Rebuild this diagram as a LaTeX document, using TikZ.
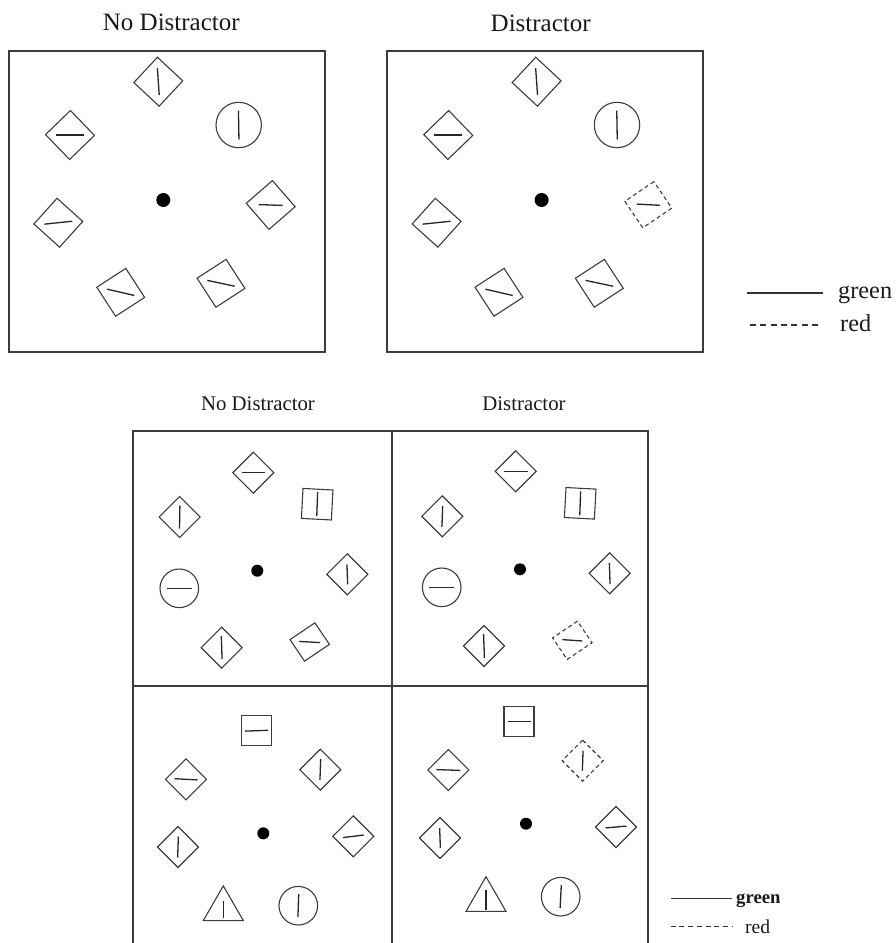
\documentclass[tikz,border=0pt]{standalone}
\usepackage{fontspec}
\setmainfont{Liberation Serif}
\usetikzlibrary{shapes.geometric}
\definecolor{InkGray}{RGB}{60,60,60}
\definecolor{FrameGray}{RGB}{60,60,60}
\definecolor{TextDark}{RGB}{25,25,25}

\begin{document}
\begin{tikzpicture}[
    x=1pt,y=-1pt,
    frame/.style={draw=FrameGray,line width=1.3pt},
    sq/.style={draw=InkGray,line width=1.1pt,rectangle,inner sep=0pt,minimum size=34.6pt},
    dia/.style={sq,rotate=45,minimum size=29pt},
    ring/.style={draw=InkGray,line width=1.1pt,circle,inner sep=0pt},
    tri/.style={draw=InkGray,line width=1.1pt,regular polygon,regular polygon sides=3,
                inner sep=0pt,minimum size=46.2pt},
    fix/.style={circle,fill=black,inner sep=0pt,minimum size=14pt},
    bar/.style={draw=black!85,line width=1.3pt},
    distr/.style={dash pattern=on 4pt off 3pt},
    ttl/.style={anchor=base,text=TextDark},
    key/.style={draw=black!80,line width=1.1pt}
  ]
  \useasboundingbox (0,0) rectangle (895,943);

  % titles
  \node[ttl,font=\fontsize{25}{30}\selectfont] (ta) at (171.3,30.7) {No Distractor};
  \node[ttl,font=\fontsize{25}{30}\selectfont] (tb) at (540.7,31.5) {Distractor};
  \node[ttl,font=\fontsize{20.8}{25}\selectfont] (tc) at (258,410) {No Distractor};
  \node[ttl,font=\fontsize{20.8}{25}\selectfont] (td) at (524,410) {Distractor};

  % top panels
  \draw[frame] (9,51) rectangle (325,352);
  \draw[frame] (387,51) rectangle (703,352);
  \foreach \p/\dx in {a/0,b/378.3}{
    \foreach \n/\x/\y/\r/\b/\l in {t/158.3/81.7/47/94/27,tl/70/135/44/0/28,l/58.3/222.7/48/6/28,
                                    bl/120.7/292.3/33/-13/28,br/221/283.3/33/-12/28}{
      \node[sq,rotate=\r] (\p-\n) at ({\x+\dx},\y) {};
      \draw[bar] (\p-\n.center) ++(\b:{-0.5pt*\l}) -- ++(\b:{1pt*\l});
    }
    \node[ring,minimum size=45.4pt] (\p-c) at ({238.7+\dx},125) {};
    \draw[bar] (\p-c.center) ++(91:-14.5pt) -- ++(91:29pt);
    \node[fix] (\p-f) at ({163.3+\dx},200) {};
  }
  \node[sq,rotate=41] (a-r) at (270.7,205) {};
  \draw[bar] (a-r.center) ++(-2:-12pt) -- ++(-2:24pt);
  \node[sq,distr,rotate=34,minimum width=35pt,minimum height=32pt] (b-r) at (648.3,204.7) {};
  \draw[bar] (b-r.center) ++(-3:-11.5pt) -- ++(-3:23pt);

  % bottom panels
  \draw[frame] (133,943) |- (648,431) -- (648,943);
  \draw[frame] (392,431) -- (392,943);
  \draw[frame] (133,686) -- (648,686);

  \foreach \n/\x/\y/\b/\l in {c-t/253.3/472.7/0/23,c-l/179.7/517/89/23,c-r/347.3/574.3/92/20,
                              c-bl/221.7/647.7/92/23,d-t/515.7/471.3/0/24,d-l/442.3/516.3/88/21,
                              d-r/609.7/573.3/92/21,d-bl/484/646/92/24,e-tl/186/779.3/-3/23,
                              e-tr/320.3/769.7/88/21,e-l/178/847/88/21,e-r/353.3/836.3/7/21,
                              f-tl/448.3/770/-2/24,f-l/440/838/92/20,f-r/616/827/5/21}{
    \node[dia] (\n) at (\x,\y) {};
    \draw[bar] (\n.center) ++(\b:{-0.5pt*\l}) -- ++(\b:{1pt*\l});
  }
  \node[dia,distr] (f-tr) at (582.7,760.7) {};
  \draw[bar] (f-tr.center) ++(88:-10pt) -- ++(88:20pt);

  \foreach \n/\x/\y/\r/\b/\l in {c-s/317.2/504.2/-3/88/24,d-s/580.2/503.3/-3/88/24,
                                 e-s/256.7/730.7/0/2/23,f-s/519/721.7/0/0/23}{
    \node[sq,rotate=\r,minimum size=30pt] (\n) at (\x,\y) {};
    \draw[bar] (\n.center) ++(\b:{-0.5pt*\l}) -- ++(\b:{1pt*\l});
  }
  \foreach \n/\x/\y/\b/\l in {c-c/179.3/588.3/0/25,d-c/441.7/587.3/0/25,
                              e-c/298.3/905.7/88/23,f-c/560.7/896.7/87/23}{
    \node[ring,minimum size=38.6pt] (\n) at (\x,\y) {};
    \draw[bar] (\n.center) ++(\b:{-0.5pt*\l}) -- ++(\b:{1pt*\l});
  }
  \foreach \n/\x/\y/\l in {e-v/223.3/909/17,f-v/486/899.8/20}{
    \node[tri] (\n) at (\x,\y) {};
    \draw[bar] (\n.center) ++(90:{-0.5pt*\l}) -- ++(90:{1pt*\l});
  }
  \node[sq,rotate=34,minimum width=30pt,minimum height=26pt] (c-br) at (309.7,642) {};
  \draw[bar] (c-br.center) ++(-3:-10.5pt) -- ++(-3:21pt);
  \node[sq,distr,rotate=34,minimum width=30pt,minimum height=26pt] (d-br) at (572.3,640.3) {};
  \draw[bar] (d-br.center) ++(-4:-10pt) -- ++(-4:20pt);

  \foreach \n/\x/\y in {c/257.3/570.7,d/520/569.3,e/263.3/833.3,f/526/823.7}
    \node[fix,minimum size=12pt] (\n-f) at (\x,\y) {};

  % legends
  \coordinate (k1a) at (747,293);
  \coordinate (k1b) at (823,293);
  \coordinate (k2a) at (750,325);
  \coordinate (k2b) at (822,325);
  \draw[key] (k1a) -- (k1b);
  \draw[key,dash pattern=on 6pt off 4.3pt] (k2a) -- (k2b);
  \node[anchor=base west,inner sep=0pt,text=TextDark,font=\fontsize{24.3}{29}\selectfont] (k1t) at (838,298) {green};
  \node[anchor=base west,inner sep=0pt,text=TextDark,font=\fontsize{24.3}{29}\selectfont] (k2t) at (840,331) {red};

  \coordinate (k3a) at (670.7,898.3);
  \coordinate (k3b) at (731.7,898.3);
  \coordinate (k4a) at (670.7,926.7);
  \coordinate (k4b) at (731.7,926.7);
  \draw[key] (k3a) -- (k3b);
  \draw[key,dash pattern=on 5pt off 3.7pt] (k4a) -- (k4b);
  \node[anchor=base west,inner sep=0pt,text=TextDark,font=\fontsize{18.7}{22}\selectfont\bfseries] (k3t) at (736,903) {green};
  \node[anchor=base west,inner sep=0pt,text=TextDark,font=\fontsize{19.6}{23}\selectfont] (k4t) at (745,933) {red};
\end{tikzpicture}
\end{document}
